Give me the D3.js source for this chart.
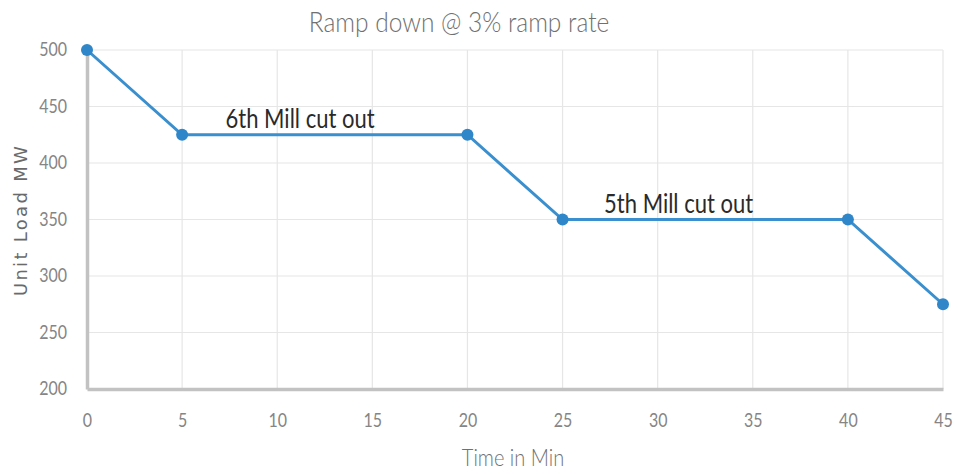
<!DOCTYPE html>
<html><head><meta charset="utf-8">
<script src="https://cdn.jsdelivr.net/npm/d3@7"></script>
<style>body{margin:0;background:#fff}</style>
</head><body>
<svg id="c" width="958" height="474"></svg>
<script>
const timeMin = [0, 5, 20, 25, 40, 45];
const unitLoad = [500, 425, 425, 350, 350, 275];
const xTicks = [0, 5, 10, 15, 20, 25, 30, 35, 40, 45];
const yTicks = [200, 250, 300, 350, 400, 450, 500];
const annotations = [{text: "6th Mill cut out", x: 11.2, y: 425}, {text: "5th Mill cut out", x: 31.1, y: 350}];
const title = "Ramp down @ 3% ramp rate";
const xTitle = "Time in Min";
const yTitle = "Unit Load MW";

const svg = d3.select("#c");
const m = {l: 87, r: 15, t: 50, b: 85};
const W = 958, H = 474;
const x = d3.scaleLinear().domain([0, 45]).range([m.l, W - m.r]);
const y = d3.scaleLinear().domain([200, 500]).range([H - m.b, m.t]);

const font = "Lato, 'Open Sans', sans-serif";
const stretch = 1.15;
// grid
svg.append("g").selectAll("line").data(xTicks.slice(1)).join("line")
  .attr("x1", d => x(d)).attr("x2", d => x(d)).attr("y1", y(500)).attr("y2", y(200))
  .attr("stroke", "#e6e6e6").attr("stroke-width", 1.2);
svg.append("g").selectAll("line").data(yTicks.slice(1)).join("line")
  .attr("x1", x(0)).attr("x2", x(45)).attr("y1", d => y(d)).attr("y2", d => y(d))
  .attr("stroke", "#e6e6e6").attr("stroke-width", 1.2);

// axes
const xAxis = svg.append("g").attr("transform", `translate(0,${y(200)})`)
  .call(d3.axisBottom(x).tickValues(xTicks).tickSize(0).tickPadding(22));
const yAxis = svg.append("g").attr("transform", `translate(${x(0)},0)`)
  .call(d3.axisLeft(y).tickValues(yTicks).tickSize(0).tickPadding(20));
[xAxis, yAxis].forEach(a => {
  a.select(".domain").attr("stroke", "#c2c2c2").attr("stroke-width", 3.5);
  a.selectAll("text").attr("fill", "#858585").style("font-family", font)
    .style("font-weight", 400).style("font-size", "16px")
    .attr("transform", `scale(1,${stretch})`);
});
yAxis.selectAll("text").attr("dy", "0.3em");

// line
const pts = timeMin.map((t, i) => [t, unitLoad[i]]);
svg.append("path").datum(pts)
  .attr("d", d3.line().x(d => x(d[0])).y(d => y(d[1])))
  .attr("fill", "none").attr("stroke", "#3a8fcf").attr("stroke-width", 3);
svg.append("g").selectAll("circle").data(pts).join("circle")
  .attr("cx", d => x(d[0])).attr("cy", d => y(d[1])).attr("r", 6).attr("fill", "#2f86c8");

// annotations
svg.append("g").selectAll("text").data(annotations).join("text")
  .attr("transform", d => `translate(${x(d.x)},${y(d.y) - 6.5}) scale(1,1.25)`)
  .attr("text-anchor", "middle").attr("fill", "#2a2a2a")
  .style("font-family", font).style("font-size", "22px")
  .text(d => d.text);

// titles
svg.append("text").attr("transform", `translate(459,32) scale(1,${stretch})`).attr("text-anchor", "middle")
  .attr("fill", "#707070").style("font-family", font).style("font-weight", 300)
  .style("font-size", "24.5px").text(title);
svg.append("text").attr("transform", `translate(513,466) scale(1,${stretch})`).attr("text-anchor", "middle")
  .attr("fill", "#707070").style("font-family", font).style("font-weight", 300)
  .style("font-size", "20px").text(xTitle);
svg.append("text").attr("transform", "translate(27,220) rotate(-90)").attr("text-anchor", "middle")
  .attr("fill", "#6a6a6a").style("font-family", "'DejaVu Sans', sans-serif").style("font-size", "18px")
  .style("letter-spacing", "2.3px").text(yTitle);
</script>
</body></html>
